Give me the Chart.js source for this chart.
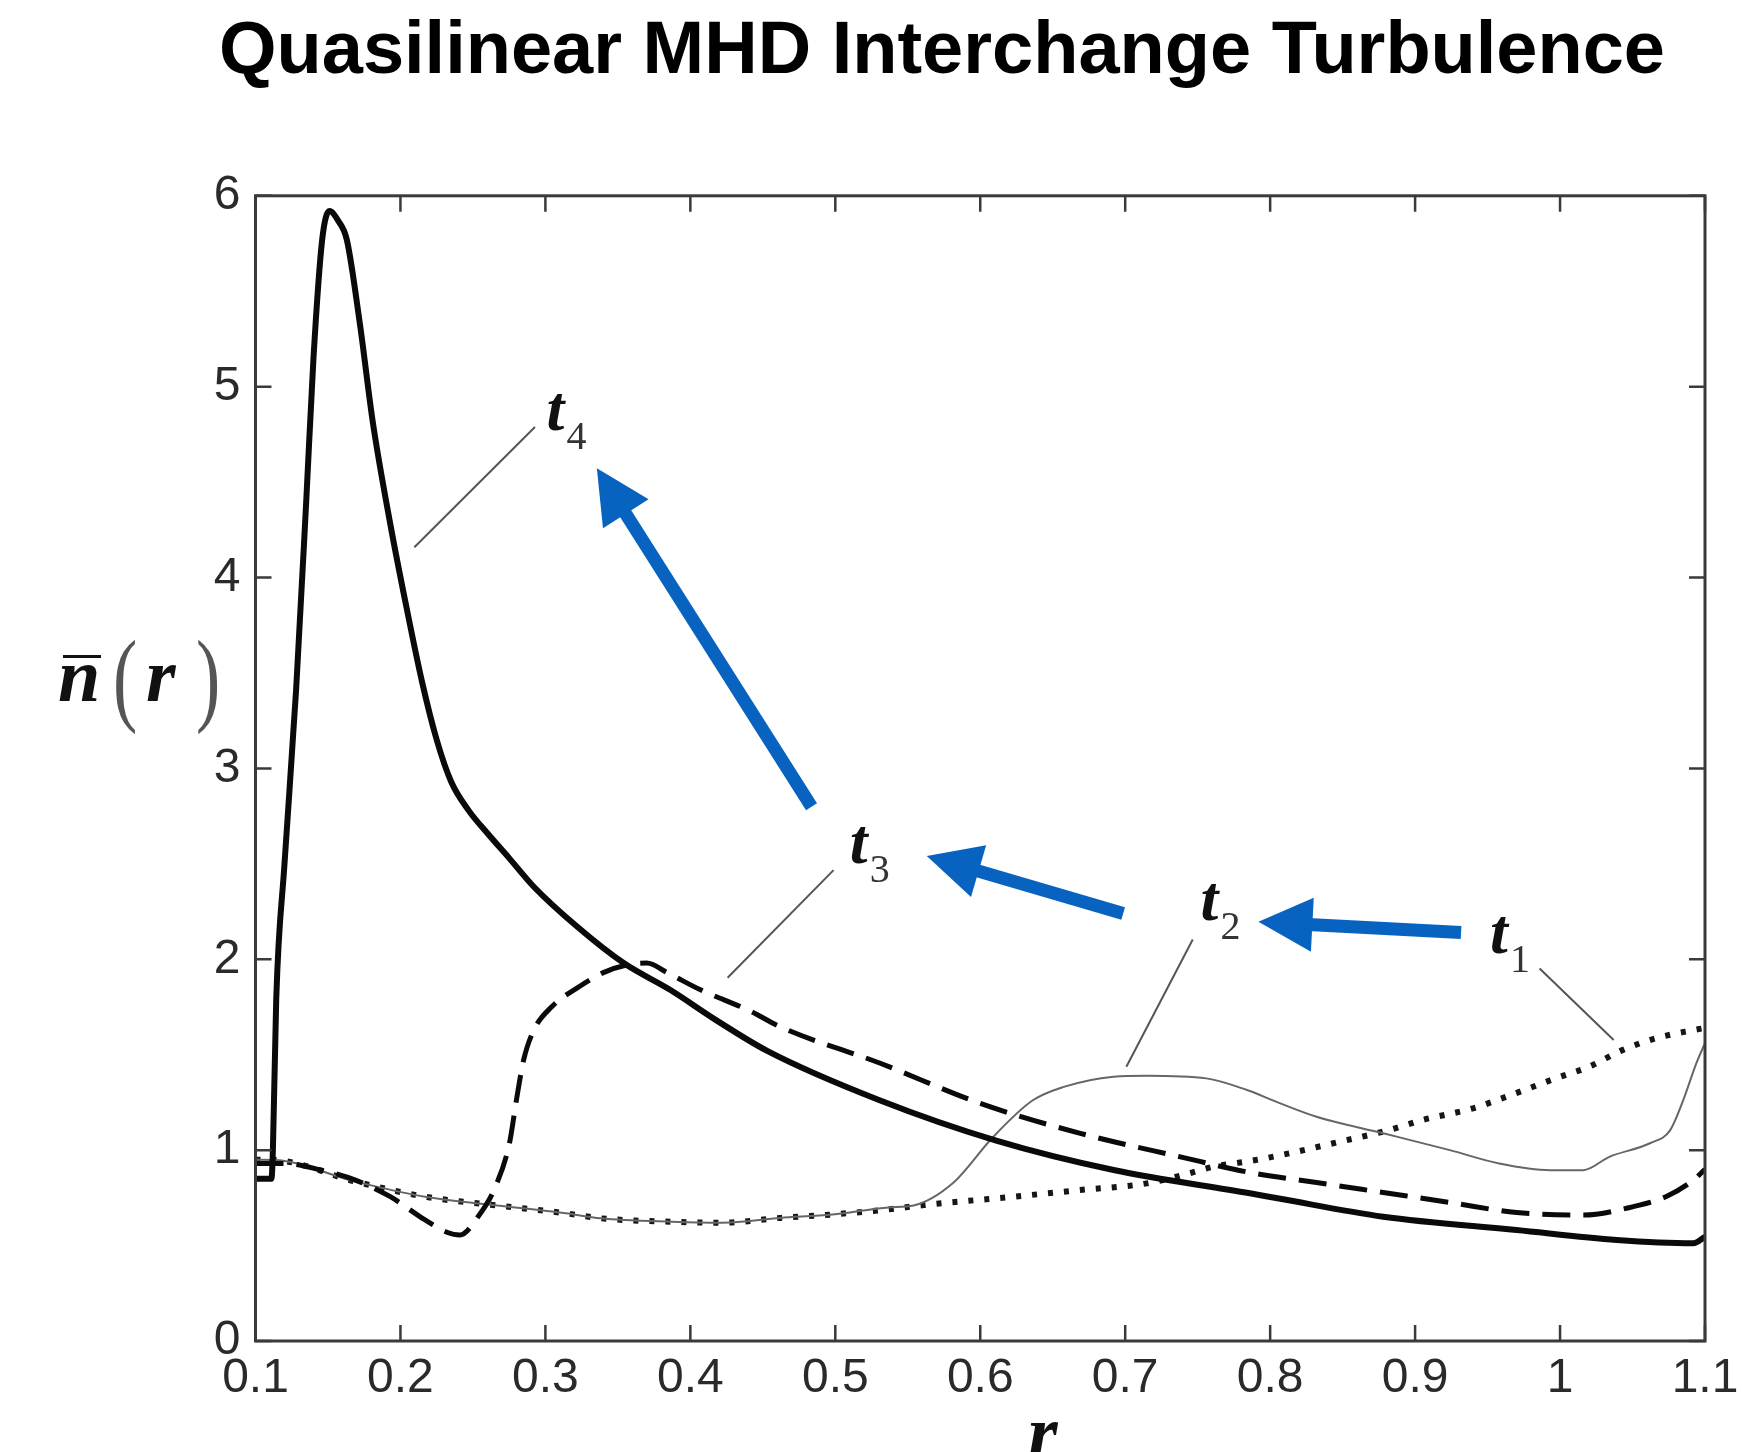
<!DOCTYPE html>
<html>
<head>
<meta charset="utf-8">
<script src="https://cdn.jsdelivr.net/npm/chart.js@4.4.0/dist/chart.umd.min.js"></script>
<style>
  html, body { margin: 0; padding: 0; background: #fff; }
  #wrap { width: 1742px; height: 1452px; }
</style>
</head>
<body>
<div id="wrap"><canvas id="fig" width="1742" height="1452"></canvas></div>
<script>
// radial profiles n(r), one pair of arrays per time
var t4R = [0.100, 0.111, 0.112, 0.1143, 0.120, 0.128, 0.135, 0.140, 0.146, 0.151, 0.157, 0.163, 0.172, 0.181, 0.193, 0.204, 0.215, 0.225, 0.235, 0.247, 0.260, 0.275, 0.292, 0.322, 0.354, 0.386, 0.418, 0.453, 0.531, 0.611, 0.692, 0.786, 0.807, 0.878, 0.970, 1.039, 1.092, 1.100];
var t4N = [0.85, 0.85, 1.00, 1.79, 2.50, 3.41, 4.40, 5.15, 5.77, 5.92, 5.87, 5.77, 5.33, 4.81, 4.28, 3.85, 3.45, 3.15, 2.93, 2.78, 2.66, 2.53, 2.38, 2.17, 1.98, 1.84, 1.68, 1.52, 1.26, 1.05, 0.896, 0.774, 0.745, 0.651, 0.581, 0.529, 0.512, 0.546];

var t3R = [0.100, 0.120, 0.145, 0.169, 0.193, 0.217, 0.232, 0.241, 0.2535, 0.2655, 0.2752, 0.280, 0.2849, 0.2921, 0.3042, 0.324, 0.340, 0.356, 0.370, 0.384, 0.407, 0.441, 0.462, 0.531, 0.600, 0.669, 0.738, 0.786, 0.832, 0.878, 0.924, 0.970, 1.016, 1.050, 1.073, 1.092, 1.100];
var t3N = [0.93, 0.93, 0.896, 0.843, 0.756, 0.634, 0.57, 0.555, 0.651, 0.808, 1.036, 1.262, 1.47, 1.63, 1.75, 1.86, 1.93, 1.97, 1.98, 1.93, 1.84, 1.73, 1.646, 1.455, 1.245, 1.088, 0.965, 0.883, 0.83, 0.778, 0.726, 0.673, 0.66, 0.703, 0.756, 0.843, 0.90];

var t2R = [0.100, 0.114, 0.169, 0.217, 0.261, 0.314, 0.338, 0.387, 0.422, 0.462, 0.498, 0.537, 0.554, 0.581, 0.609, 0.636, 0.657, 0.692, 0.715, 0.756, 0.784, 0.807, 0.832, 0.878, 0.924, 0.958, 0.993, 1.016, 1.034, 1.062, 1.076, 1.085, 1.094, 1.100];
var t2N = [0.95, 0.948, 0.835, 0.756, 0.715, 0.669, 0.643, 0.625, 0.62, 0.645, 0.663, 0.70, 0.71, 0.826, 1.07, 1.26, 1.33, 1.385, 1.39, 1.376, 1.315, 1.245, 1.175, 1.088, 1.0, 0.93, 0.895, 0.895, 0.965, 1.036, 1.105, 1.262, 1.455, 1.56];

var t1R = [0.100, 0.114, 0.169, 0.217, 0.261, 0.314, 0.338, 0.387, 0.422, 0.462, 0.498, 0.537, 0.561, 0.623, 0.669, 0.715, 0.740, 0.761, 0.790, 0.813, 0.848, 0.882, 0.905, 0.940, 0.963, 0.997, 1.020, 1.043, 1.066, 1.092, 1.100];
var t1N = [0.95, 0.948, 0.835, 0.756, 0.715, 0.669, 0.643, 0.625, 0.62, 0.645, 0.663, 0.69, 0.712, 0.756, 0.791, 0.826, 0.87, 0.913, 0.948, 0.983, 1.044, 1.105, 1.158, 1.219, 1.28, 1.376, 1.437, 1.524, 1.586, 1.629, 1.64];

var xTicks = [0.1, 0.2, 0.3, 0.4, 0.5, 0.6, 0.7, 0.8, 0.9, 1.0, 1.1];
var xTickLabels = ['0.1', '0.2', '0.3', '0.4', '0.5', '0.6', '0.7', '0.8', '0.9', '1', '1.1'];
var yTicks = [0, 1, 2, 3, 4, 5, 6];
var yTickLabels = ['0', '1', '2', '3', '4', '5', '6'];

// annotations, in data units (r, n)
var curveNames = ['4', '3', '2', '1'];
var namePos = [[0.3008, 4.772], [0.510, 2.504], [0.7519, 2.205], [0.9517, 2.032]];
var leaderFrom = [[0.2928, 4.789], [0.4988, 2.467], [0.7466, 2.104], [0.9859, 1.952]];
var leaderTo = [[0.2096, 4.159], [0.4257, 1.903], [0.7008, 1.437], [1.037, 1.577]];
var arrowFrom = [[0.4836, 2.799], [0.6986, 2.240], [0.9317, 2.140]];
var arrowTo = [[0.3355, 4.573], [0.5631, 2.541], [0.7919, 2.196]];

function pairs(rs, ns) {
    var out = [];
    for (var i = 0; i < rs.length; i++) out.push({x: rs[i], y: ns[i]});
    return out;
}

var serif = '"Liberation Serif", "Times New Roman", serif';
var sans = '"Liberation Sans", Arial, sans-serif';

var decorPlugin = {
    id: 'decor',
    afterDatasetsDraw: function (chart) {
        var ctx = chart.ctx, a = chart.chartArea;
        var xs = chart.scales.x, ys = chart.scales.y;
        function px(p) { return [xs.getPixelForValue(p[0]), ys.getPixelForValue(p[1])]; }

        ctx.save();
        // box and inward ticks on all four sides
        ctx.strokeStyle = '#3a3a3a';
        ctx.lineWidth = 3;
        ctx.strokeRect(a.left, a.top, a.right - a.left, a.bottom - a.top);
        ctx.lineWidth = 2.5;
        ctx.beginPath();
        xTicks.forEach(function (v) {
            var x = xs.getPixelForValue(v);
            ctx.moveTo(x, a.bottom); ctx.lineTo(x, a.bottom - 16);
            ctx.moveTo(x, a.top); ctx.lineTo(x, a.top + 16);
        });
        yTicks.forEach(function (v) {
            var y = ys.getPixelForValue(v);
            ctx.moveTo(a.left, y); ctx.lineTo(a.left + 16, y);
            ctx.moveTo(a.right, y); ctx.lineTo(a.right - 16, y);
        });
        ctx.stroke();

        // leader lines
        ctx.strokeStyle = '#555';
        ctx.lineWidth = 2;
        for (var i = 0; i < leaderFrom.length; i++) {
            var p0 = px(leaderFrom[i]), p1 = px(leaderTo[i]);
            ctx.beginPath(); ctx.moveTo(p0[0], p0[1]); ctx.lineTo(p1[0], p1[1]); ctx.stroke();
        }

        // t_k labels
        ctx.textBaseline = 'alphabetic';
        ctx.textAlign = 'left';
        for (var j = 0; j < curveNames.length; j++) {
            var q = px(namePos[j]);
            ctx.fillStyle = '#111';
            ctx.font = 'italic bold 64px ' + serif;
            ctx.fillText('t', q[0], q[1]);
            ctx.fillStyle = '#333';
            ctx.font = '40px ' + serif;
            ctx.fillText(curveNames[j], q[0] + 20, q[1] + 19);
        }

        // blue arrows
        ctx.fillStyle = '#0863c0';
        ctx.strokeStyle = '#0863c0';
        for (var k = 0; k < arrowFrom.length; k++) {
            var s = px(arrowFrom[k]), e = px(arrowTo[k]);
            var dx = e[0] - s[0], dy = e[1] - s[1];
            var len = Math.sqrt(dx * dx + dy * dy);
            var ux = dx / len, uy = dy / len;
            var headLen = 54, halfW = 27;
            var bx = e[0] - ux * headLen, by = e[1] - uy * headLen;
            ctx.lineWidth = 13;
            ctx.lineCap = 'butt';
            ctx.beginPath(); ctx.moveTo(s[0], s[1]); ctx.lineTo(bx + ux * 4, by + uy * 4); ctx.stroke();
            ctx.beginPath();
            ctx.moveTo(e[0], e[1]);
            ctx.lineTo(bx - uy * halfW, by + ux * halfW);
            ctx.lineTo(bx + uy * halfW, by - ux * halfW);
            ctx.closePath();
            ctx.fill();
        }
        ctx.restore();
    },
    afterDraw: function (chart) {
        var ctx = chart.ctx;
        ctx.save();
        ctx.textBaseline = 'alphabetic';
        ctx.textAlign = 'left';
        ctx.fillStyle = '#111';
        // y label  n-bar(r)
        ctx.font = 'italic bold 76px ' + serif;
        ctx.fillText('n', 58, 701);
        ctx.fillRect(63, 655, 38, 3);
        ctx.fillText('r', 146, 701);
        // thin, narrow parentheses
        ctx.fillStyle = '#555';
        ctx.font = '104px ' + serif;
        ctx.save(); ctx.translate(113, 712); ctx.scale(0.7, 1); ctx.fillText('(', 0, 0); ctx.restore();
        ctx.save(); ctx.translate(196, 712); ctx.scale(0.7, 1); ctx.fillText(')', 0, 0); ctx.restore();
        // x label r
        ctx.fillStyle = '#111';
        ctx.font = 'italic bold 76px ' + serif;
        ctx.fillText('r', 1028, 1458);
        ctx.restore();
    }
};

var ctx = document.getElementById('fig');
var chart = new Chart(ctx, {
    type: 'line',
    data: {
        datasets: [
            { label: 't4', data: pairs(t4R, t4N), borderColor: '#0a0a0a', borderWidth: 6, pointRadius: 0, cubicInterpolationMode: 'monotone' },
            { label: 't3', data: pairs(t3R, t3N), borderColor: '#0a0a0a', borderWidth: 5, borderDash: [28, 13], pointRadius: 0, cubicInterpolationMode: 'monotone' },
            { label: 't2', data: pairs(t2R, t2N), borderColor: '#666', borderWidth: 2, pointRadius: 0, cubicInterpolationMode: 'monotone' },
            { label: 't1', data: pairs(t1R, t1N), borderColor: '#161616', borderWidth: 6, borderDash: [5, 11], pointRadius: 0, cubicInterpolationMode: 'monotone' }
        ]
    },
    options: {
        responsive: false,
        animation: false,
        devicePixelRatio: 1,
        layout: { padding: { left: 179, right: 37, top: 0, bottom: 0 } },
        plugins: {
            legend: { display: false },
            tooltip: { enabled: false },
            title: {
                display: true,
                text: 'Quasilinear MHD Interchange Turbulence',
                color: '#000',
                font: { family: sans, size: 74, weight: 'bold', lineHeight: 1.2 },
                padding: { top: 8, bottom: 99 }
            }
        },
        scales: {
            x: {
                type: 'linear',
                min: 0.1,
                max: 1.1,
                grid: { display: false, drawTicks: false },
                border: { display: false },
                afterBuildTicks: function (s) { s.ticks = xTicks.map(function (v) { return {value: v}; }); },
                afterFit: function (s) { s.height = 111; s.paddingLeft = 0; s.paddingRight = 0; },
                ticks: {
                    autoSkip: false,
                    maxRotation: 0,
                    padding: 9,
                    color: '#2a2a2a',
                    font: { family: sans, size: 48 },
                    callback: function (v, i) { return xTickLabels[i]; }
                }
            },
            y: {
                min: 0,
                max: 6,
                grid: { display: false, drawTicks: false },
                border: { display: false },
                afterBuildTicks: function (s) { s.ticks = yTicks.map(function (v) { return {value: v}; }); },
                afterFit: function (s) { s.width = 76.5; s.paddingTop = 0; s.paddingBottom = 0; },
                ticks: {
                    autoSkip: false,
                    padding: 15,
                    color: '#2a2a2a',
                    font: { family: sans, size: 48 },
                    callback: function (v, i) { return yTickLabels[i]; }
                }
            }
        }
    },
    plugins: [decorPlugin]
});
</script>
</body>
</html>
